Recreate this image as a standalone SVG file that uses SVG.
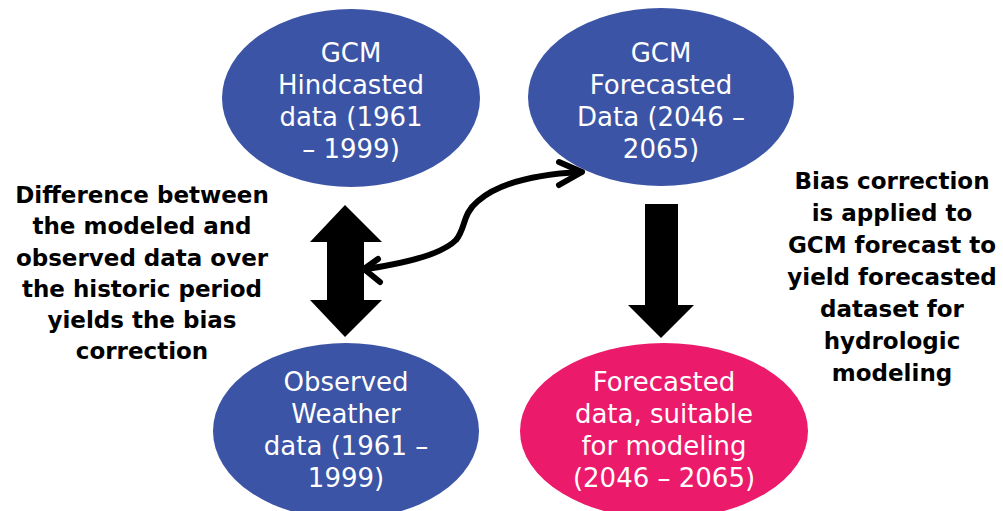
<svg xmlns="http://www.w3.org/2000/svg" width="1003" height="511" viewBox="0 0 1003 511">
<style>
.node text{font-family:"DejaVu Sans",sans-serif;font-size:26px;fill:#fff;text-anchor:middle}
.lbl{font-family:"DejaVu Sans",sans-serif;font-size:23px;font-weight:bold;fill:#000;text-anchor:middle}
.blue{fill:#3B54A5}
.pink{fill:#EC1A6B}
.curve{fill:none;stroke:#000;stroke-width:6;stroke-linecap:round;stroke-linejoin:round}
</style>
<rect width="1003" height="511" fill="#fff"/>
<g id="hindcast" class="node">
<ellipse class="blue" cx="351" cy="98" rx="129" ry="89"/>
<text x="351" y="62">GCM</text>
<text x="351" y="94">Hindcasted</text>
<text x="351" y="126">data (1961</text>
<text x="351" y="158">– 1999)</text>
</g>
<g id="forecast" class="node">
<ellipse class="blue" cx="661" cy="97" rx="133" ry="89"/>
<text x="661" y="62">GCM</text>
<text x="661" y="94">Forecasted</text>
<text x="661" y="126">Data (2046 –</text>
<text x="661" y="158">2065)</text>
</g>
<g id="observed" class="node">
<ellipse class="blue" cx="346" cy="431" rx="133" ry="88"/>
<text x="346" y="391">Observed</text>
<text x="346" y="423">Weather</text>
<text x="346" y="455">data (1961 –</text>
<text x="346" y="487">1999)</text>
</g>
<g id="corrected" class="node">
<ellipse class="pink" cx="664" cy="431" rx="144" ry="88"/>
<text x="664" y="391">Forecasted</text>
<text x="664" y="423">data, suitable</text>
<text x="664" y="455">for modeling</text>
<text x="664" y="487">(2046 – 2065)</text>
</g>
<g id="label-left">
<text class="lbl" x="142" y="203">Difference between</text>
<text class="lbl" x="142" y="234">the modeled and</text>
<text class="lbl" x="142" y="266">observed data over</text>
<text class="lbl" x="142" y="297">the historic period</text>
<text class="lbl" x="142" y="328">yields the bias</text>
<text class="lbl" x="142" y="359">correction</text>
</g>
<g id="label-right">
<text class="lbl" x="892" y="189">Bias correction</text>
<text class="lbl" x="892" y="221">is applied to</text>
<text class="lbl" x="892" y="253">GCM forecast to</text>
<text class="lbl" x="892" y="285">yield forecasted</text>
<text class="lbl" x="892" y="317">dataset for</text>
<text class="lbl" x="892" y="349">hydrologic</text>
<text class="lbl" x="892" y="381">modeling</text>
</g>
<g id="connectors">
<polygon points="345,205 382,242 364,242 364,300 382,300 345,337 310,300 327,300 327,242 310,242" fill="#000"/>
<polygon points="645,204 678,204 678,305 694,305 661,338 628,305 645,305" fill="#000"/>
<path class="curve" d="M366,269 C400,264 440,256 456,240 C466,228 462,214 478,201 C500,182 540,174 581,172"/>
<polyline class="curve" points="378,259 364,269 380,282"/>
<polyline class="curve" points="559,162 582,172 559,185"/>
</g>
</svg>
